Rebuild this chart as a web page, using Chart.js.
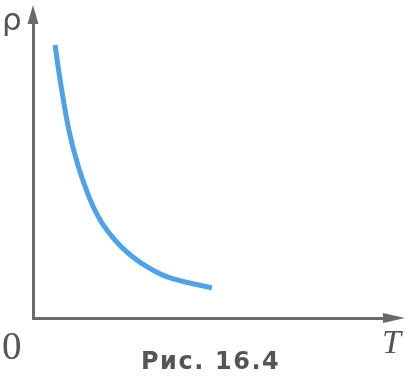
<!DOCTYPE html>
<html>
<head>
<meta charset="utf-8">
<script src="https://cdn.jsdelivr.net/npm/chart.js@4"></script>
<style>
  html, body { margin: 0; padding: 0; background: #fff; }
  #c { display: block; }
</style>
</head>
<body>
<canvas id="c" width="412" height="382"></canvas>
<script>
// Temperature T (arbitrary units) and resistivity rho
const temperature = [0.61, 0.75, 0.99, 1.24, 1.55, 1.78, 2.04, 2.44, 2.99, 3.71, 4.94];
const resistivity = [9.10, 7.93, 6.27, 5.10, 4.03, 3.43, 2.93, 2.37, 1.83, 1.37, 1.00];
const axisLabels = { y: 'ρ', x: 'T', origin: '0' };
const caption = 'Рис. 16.4';

const points = temperature.map((t, i) => ({ x: t, y: resistivity[i] }));
const axisColor = '#6a6a6a';
const textColor = '#555555';

const decorations = {
  id: 'decorations',
  afterDraw(chart) {
    const { ctx, chartArea: a } = chart;
    ctx.save();
    ctx.fillStyle = axisColor;
    // y arrow
    ctx.beginPath();
    ctx.moveTo(a.left, 5);
    ctx.lineTo(a.left - 5.5, 24);
    ctx.lineTo(a.left + 5.5, 24);
    ctx.closePath();
    ctx.fill();
    // x arrow
    ctx.beginPath();
    ctx.moveTo(405, a.bottom);
    ctx.lineTo(383, a.bottom - 5);
    ctx.lineTo(383, a.bottom + 5);
    ctx.closePath();
    ctx.fill();
    ctx.fillRect(a.right - 1, a.bottom - 1.5, 385 - a.right, 3);

    ctx.fillStyle = textColor;
    ctx.textBaseline = 'alphabetic';
    ctx.textAlign = 'left';
    ctx.font = '31px "DejaVu Sans"';
    ctx.fillText(axisLabels.y, 2, 30);
    ctx.font = '39px "Liberation Serif"';
    ctx.fillText(axisLabels.origin, 2, 359);
    ctx.font = 'italic 34px "Liberation Serif"';
    ctx.fillText(axisLabels.x, 382, 353);
    ctx.font = 'bold 24px "DejaVu Sans"';
    ctx.letterSpacing = '1.5px';
    const parts = caption.split(' ');
    ctx.fillText(parts[0], 141, 369);
    ctx.fillText(parts[1], 215, 369);
    ctx.restore();
  }
};

new Chart(document.getElementById('c'), {
  type: 'line',
  data: {
    datasets: [{
      data: points,
      borderColor: '#4da2ea',
      borderWidth: 5,
      pointRadius: 0,
      tension: 0.4,
      fill: false,
      clip: false
    }]
  },
  options: {
    responsive: false,
    devicePixelRatio: 1,
    animation: false,
    layout: { padding: { left: 33, top: 18, right: 17, bottom: 64 } },
    plugins: { legend: { display: false }, tooltip: { enabled: false }, title: { display: false } },
    scales: {
      x: {
        type: 'linear', min: 0, max: 10,
        grid: { display: false, drawTicks: false },
        ticks: { display: false },
        border: { display: true, color: axisColor, width: 3 }
      },
      y: {
        type: 'linear', min: 0, max: 10,
        grid: { display: false, drawTicks: false },
        ticks: { display: false },
        border: { display: true, color: axisColor, width: 3 }
      }
    }
  },
  plugins: [decorations]
});
</script>
</body>
</html>
